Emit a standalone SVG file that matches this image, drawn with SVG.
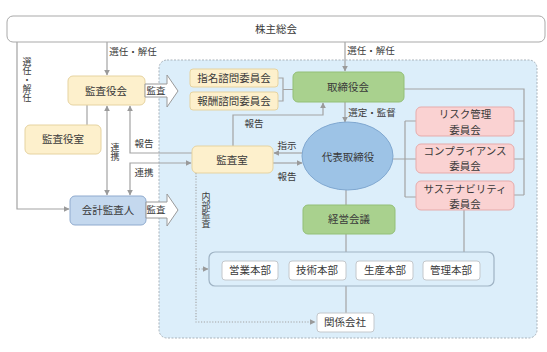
<svg xmlns="http://www.w3.org/2000/svg" width="547" height="352" viewBox="0 0 547 352">
<defs>
<marker id="ah" viewBox="0 0 10 10" refX="9" refY="5" markerWidth="6" markerHeight="6" orient="auto-start-reverse" markerUnits="userSpaceOnUse">
<path d="M0,0 L10,5 L0,10 Z" fill="#9a9a9a"/>
</marker>
<style>
text{font-family:"Noto Sans CJK JP","Noto Sans",sans-serif;fill:#3a3a3a;text-anchor:middle}
.n{font-size:10.5px}
.l{font-size:9.5px}
.v{font-size:9px;writing-mode:vertical-rl;text-anchor:start}
.cream{fill:#fdf0cc;stroke:#e6d3a0;stroke-width:1}
.green{fill:#a9d18e;stroke:#93bf76;stroke-width:1}
.pink{fill:#fad2d2;stroke:#e6abab;stroke-width:1}
.blue{fill:#c4d8ee;stroke:#8faace;stroke-width:1}
.white{fill:#ffffff;stroke:#c4c8cc;stroke-width:1}
.ln{fill:none;stroke:#a3a3a3;stroke-width:1.2}
.dot{fill:none;stroke:#a3a3a3;stroke-width:1.1;stroke-dasharray:1.2 1.6}
.hollow{fill:#ffffff;stroke:#9a9a9a;stroke-width:1}
</style>
</defs>

<rect id="container" x="159" y="60" width="378" height="278" rx="8" fill="#dceefa" stroke="#a9b3bb" stroke-width="1" stroke-dasharray="2 1.5"/>

<g id="connectors">
<path class="ln" d="M17,42 V209 H69" marker-end="url(#ah)"/>
<path class="ln" d="M107,42 V75" marker-end="url(#ah)"/>
<path class="ln" d="M345,42 V71" marker-end="url(#ah)"/>
<path class="ln" d="M87,125 V105"/>
<path class="ln" d="M107,106 V195" marker-start="url(#ah)" marker-end="url(#ah)"/>
<path class="ln" d="M192,153 H130 V106" marker-end="url(#ah)"/>
<path class="ln" d="M130,195 V163 H191" marker-start="url(#ah)" marker-end="url(#ah)"/>
<path class="ln" d="M278,78 H283 V101 H278 M283,89.5 H293"/>
<path class="ln" d="M233,146 V115 H323 V103" marker-end="url(#ah)"/>
<path class="ln" d="M345,102 V122" marker-end="url(#ah)"/>
<path class="ln" d="M302,153 H274" marker-end="url(#ah)"/>
<path class="ln" d="M273,163 H302" marker-end="url(#ah)"/>
<path class="ln" d="M393,159 H405 M405,121 V197 M405,121 H416 M405,159 H416 M405,197 H416"/>
<path class="ln" d="M404,89 H524 V195 M514,121 H524 M514,159 H524 M514,195 H524"/>
<path class="ln" d="M346,190 V205"/>
<path class="ln" d="M346,234 V252"/>
<path class="ln" d="M346,286 V313"/>
<path class="ln" d="M464,210 V252"/>
<path class="dot" d="M196,173 V322 H315" marker-end="url(#ah)"/>
<path class="dot" d="M196,269 H208" marker-end="url(#ah)"/>
</g>

<g id="kabunushi">
<rect x="7" y="16" width="538" height="26" rx="6" fill="#ffffff" stroke="#a9a9a9" stroke-width="1"/>
<text class="n" x="276" y="33">株主総会</text>
</g>

<g id="labels">
<text class="l" x="133" y="55">選任・解任</text>
<text class="l" x="371" y="54">選任・解任</text>
<text class="v" x="27" y="57">選任・解任</text>
<text class="v" x="115" y="143">連携</text>
<text class="l" x="144" y="147">報告</text>
<text class="l" x="144" y="176">連携</text>
<text class="l" x="254" y="127">報告</text>
<text class="l" x="287" y="149">指示</text>
<text class="l" x="287" y="180">報告</text>
<text class="l" x="372" y="116">選定・監督</text>
<text class="v" x="206" y="192">内部監査</text>
</g>

<g id="kansayakukai">
<rect class="cream" x="68" y="76" width="77" height="29" rx="5"/>
<text class="n" x="106" y="95">監査役会</text>
</g>
<g id="arrow-kansa1">
<path class="hollow" d="M145,84 H167 V75 L178,91 L167,107 V97 H145 Z"/>
<text class="l" x="156" y="94">監査</text>
</g>
<g id="kansayakushitsu">
<rect class="cream" x="25" y="125" width="76" height="29" rx="5"/>
<text class="n" x="63" y="143">監査役室</text>
</g>
<g id="kaikei">
<rect class="blue" x="70" y="196" width="76" height="29" rx="5"/>
<text class="n" x="108" y="214">会計監査人</text>
</g>
<g id="arrow-kansa2">
<path class="hollow" d="M146,202 H167 V194 L178,210 L167,226 V218 H146 Z"/>
<text class="l" x="156" y="213">監査</text>
</g>

<g id="shimei">
<rect class="cream" x="190" y="69" width="88" height="18" rx="3"/>
<text class="n" x="234" y="82">指名諮問委員会</text>
</g>
<g id="hoshu">
<rect class="cream" x="190" y="92" width="88" height="18" rx="3"/>
<text class="n" x="234" y="105">報酬諮問委員会</text>
</g>
<g id="torishimariyakukai">
<rect class="green" x="293" y="72" width="111" height="30" rx="5"/>
<text class="n" x="348" y="91">取締役会</text>
</g>
<g id="kansashitsu">
<rect class="cream" x="192" y="146" width="81" height="27" rx="5"/>
<text class="n" x="232" y="164">監査室</text>
</g>
<g id="daihyo">
<ellipse cx="347.5" cy="156" rx="45.5" ry="34" fill="#9dc3e6" stroke="#7fa7d0" stroke-width="1"/>
<text class="n" x="348" y="161">代表取締役</text>
</g>
<g id="risk">
<rect class="pink" x="416" y="107" width="98" height="29" rx="5"/>
<text class="n"><tspan x="465" y="118">リスク管理</tspan><tspan x="465" y="133.5">委員会</tspan></text>
</g>
<g id="compliance">
<rect class="pink" x="416" y="144" width="98" height="29" rx="5"/>
<text class="n"><tspan x="465" y="154.5">コンプライアンス</tspan><tspan x="465" y="170">委員会</tspan></text>
</g>
<g id="sustainability">
<rect class="pink" x="416" y="181" width="98" height="29" rx="5"/>
<text class="n"><tspan x="465" y="192.5">サステナビリティ</tspan><tspan x="465" y="208">委員会</tspan></text>
</g>
<g id="keiei">
<rect class="green" x="303" y="205" width="92" height="29" rx="5"/>
<text class="n" x="349" y="223">経営会議</text>
</g>
<g id="honbu">
<rect x="209" y="252" width="285" height="34" rx="6" fill="none" stroke="#9fb3c4" stroke-width="1.2"/>
</g>
<g id="eigyo">
<rect class="white" x="222" y="261" width="56" height="19" rx="3"/>
<text class="n" x="250" y="274">営業本部</text>
</g>
<g id="gijutsu">
<rect class="white" x="289" y="261" width="57" height="19" rx="3"/>
<text class="n" x="317" y="274">技術本部</text>
</g>
<g id="seisan">
<rect class="white" x="356" y="261" width="57" height="19" rx="3"/>
<text class="n" x="385" y="274">生産本部</text>
</g>
<g id="kanri">
<rect class="white" x="423" y="261" width="57" height="19" rx="3"/>
<text class="n" x="451" y="274">管理本部</text>
</g>
<g id="kankei">
<rect class="white" x="317" y="313" width="57" height="19" rx="3"/>
<text class="n" x="345" y="326">関係会社</text>
</g>
</svg>
